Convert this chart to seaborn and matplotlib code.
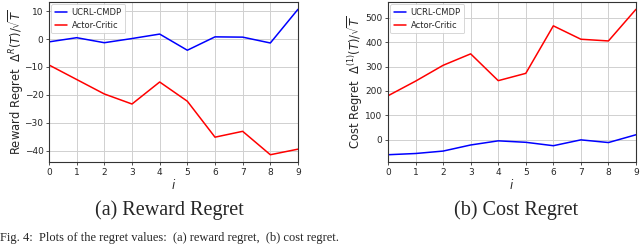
import numpy as np
import pandas as pd
import matplotlib
matplotlib.use("Agg")
import matplotlib.pyplot as plt
import seaborn as sns

episodes = [0, 1, 2, 3, 4, 5, 6, 7, 8, 9]
reward_ucrl = [-1.0, 0.5, -1.3, 0.2, 1.8, -4.0, 0.8, 0.7, -1.4, 10.7]
reward_ac = [-9.3, -14.5, -19.7, -23.3, -15.4, -22.3, -35.2, -33.1, -41.5, -39.5]
cost_ucrl = [-62, -57, -47, -22, -5, -11, -25, -1, -12, 20]
cost_ac = [180, 240, 305, 352, 242, 272, 467, 412, 405, 535]
series_names = ["UCRL-CMDP", "Actor-Critic"]
colors = ["#0000ff", "#ff0000"]

sns.set_style("whitegrid", {"axes.edgecolor": "#333333", "grid.color": "#d0d0d0",
                            "xtick.bottom": True, "ytick.left": True})
plt.rcParams["font.family"] = ["DejaVu Sans"]

fig = plt.figure(figsize=(6.4, 2.45), dpi=100)
axL = fig.add_axes([49 / 640, 1 - 162 / 245, (298 - 49) / 640, (162 - 2) / 245])
axR = fig.add_axes([388 / 640, 1 - 162 / 245, (636 - 388) / 640, (162 - 2) / 245])

def draw(ax, ucrl, ac, ylabel):
    df = pd.DataFrame({
        "i": episodes * 2,
        "value": list(ucrl) + list(ac),
        "method": [series_names[0]] * len(episodes) + [series_names[1]] * len(episodes),
    })
    sns.lineplot(data=df, x="i", y="value", hue="method", palette=colors,
                 ax=ax, linewidth=1.1)
    ax.set_xlim(0, 9)
    ax.set_xticks(episodes)
    ax.set_xlabel("$i$", fontsize=8.5, labelpad=1)
    ax.set_ylabel(ylabel, fontsize=8.3)
    ax.yaxis.set_label_coords(-0.092, 0.5)
    ax.tick_params(labelsize=6.5, length=2.5, width=0.6, pad=1.5, color="#333333")
    for s in ax.spines.values():
        s.set_linewidth(0.8)
    ax.grid(True, linewidth=0.7)
    leg = ax.legend(loc="upper left", fontsize=6, frameon=True, framealpha=0.9,
                    borderpad=0.45, handlelength=1.4, handletextpad=0.6,
                    labelspacing=0.45, borderaxespad=0.25)
    leg.get_frame().set_edgecolor("#cccccc")
    leg.get_frame().set_linewidth(0.6)

draw(axL, reward_ucrl, reward_ac, r"Reward Regret  $\Delta^R(T)/\sqrt{T}$")
draw(axR, cost_ucrl, cost_ac, r"Cost Regret  $\Delta^{(1)}(T)/\sqrt{T}$")
axL.set_yticks([10, 0, -10, -20, -30, -40])
axR.set_yticks([0, 100, 200, 300, 400, 500])

fig.text(169 / 640, 1 - 210 / 245, "(a) Reward Regret", ha="center", va="center",
         fontsize=14.5, family="Liberation Serif")
fig.text(516 / 640, 1 - 210 / 245, "(b) Cost Regret", ha="center", va="center",
         fontsize=14.5, family="Liberation Serif")
fig.text(0.0, 1 / 245, "Fig. 4:  Plots of the regret values:  (a) reward regret,  (b) cost regret.",
         ha="left", va="bottom", fontsize=9, family="Liberation Serif")

fig.savefig("out.png", dpi=100)
